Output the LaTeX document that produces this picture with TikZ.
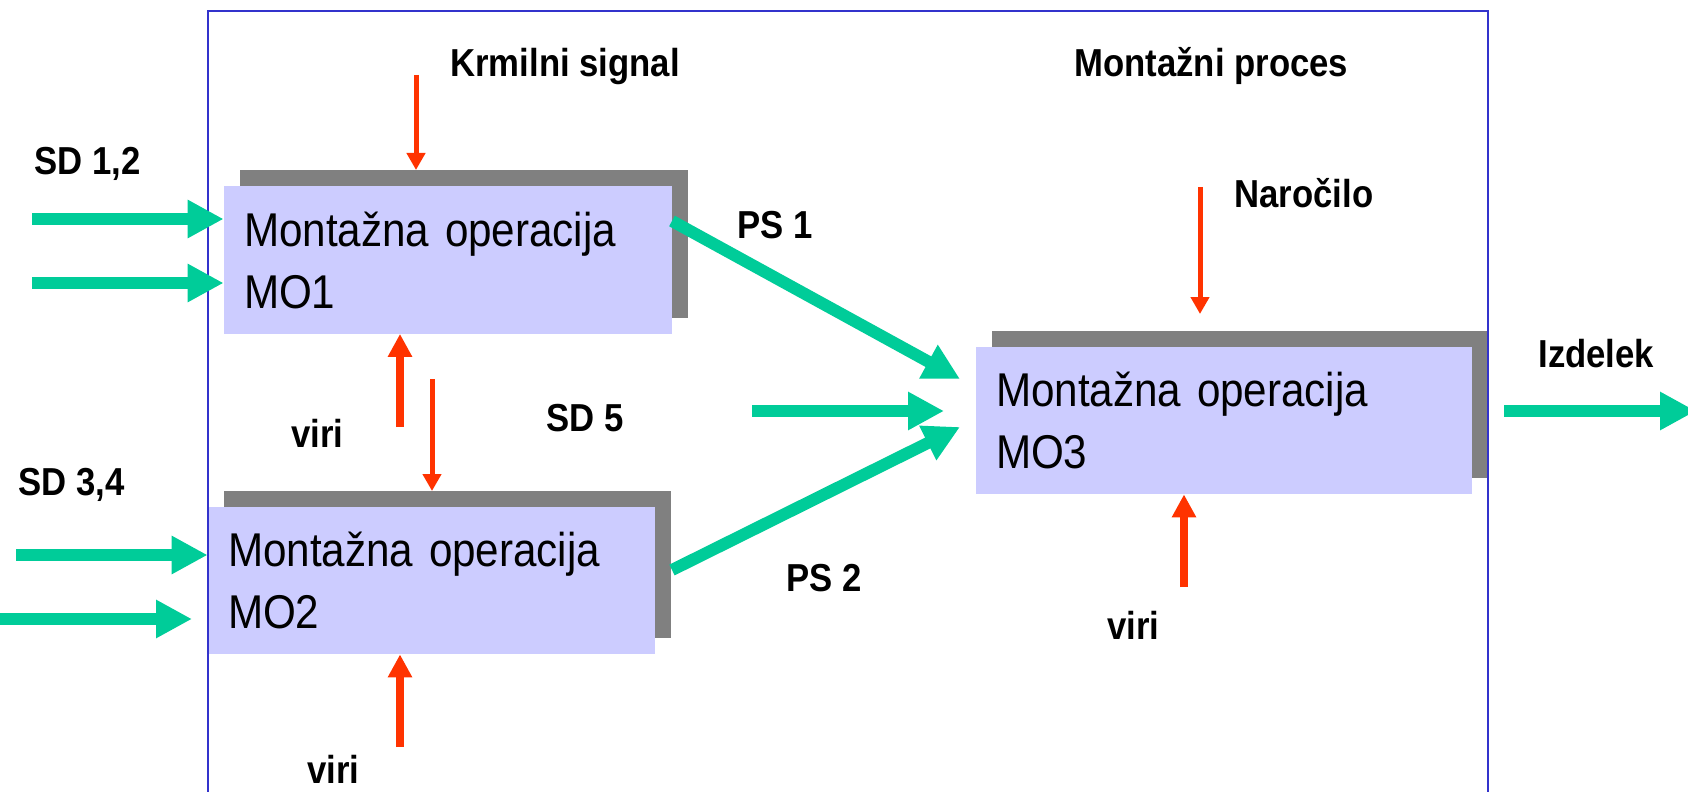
\documentclass[tikz,border=0pt]{standalone}
\usepackage{fontspec}
\setmainfont{Liberation Sans}[FakeStretch=0.89]
\usetikzlibrary{arrows.meta,shadows}
\definecolor{boxfill}{HTML}{CCCCFF}
\definecolor{shadowgray}{HTML}{808080}
\definecolor{flowgreen}{HTML}{00CC99}
\definecolor{sigred}{HTML}{FF3300}
\definecolor{frameblue}{HTML}{3333CC}
\begin{document}
\begin{tikzpicture}[x=0.5pt,y=-0.5pt,
  opbox/.style={rectangle, fill=boxfill, draw=none, align=left,
    inner xsep=10pt, inner ysep=0pt, minimum height=73.5pt,
    font=\fontsize{23.7}{31}\selectfont,
    drop shadow={shadow xshift=8pt, shadow yshift=8pt, fill=shadowgray, opacity=1}},
  lbl/.style={font=\bfseries\fontsize{19.5}{23}\selectfont, anchor=base west, inner sep=0pt},
  flow/.style={flowgreen, line width=6pt, -{Triangle[length=18pt,width=18pt]}},
  sigthin/.style={sigred, line width=2.5pt, -{Triangle[length=8.5pt,width=9pt]}},
  sigthick/.style={sigred, line width=4pt, -{Triangle[length=11.5pt,width=11.5pt]}}
]
\useasboundingbox (0,0) rectangle (1688,792);
\fill[white] (0,0) rectangle (1688,792);

% operation boxes
\node[opbox, text width=204pt] (mo1) at (448,260) {Montažna operacija\\MO1};
\node[opbox, text width=203.5pt] (mo2) at (431.5,580.5) {Montažna operacija\\MO2};
\node[opbox, text width=228pt] (mo3) at (1224,420.5) {Montažna operacija\\MO3};

% frame
\draw[frameblue, line width=1pt] (208,800) -- (208,11) -- (1488,11) -- (1488,800);

% coordinates for free ends
\coordinate (sd1a) at (32,219);
\coordinate (sd1b) at (32,283);
\coordinate (sd3a) at (16,555);
\coordinate (sd3b) at (0,619);
\coordinate (sd3e) at (192,619);
\coordinate (sd5s) at (752,411);
\coordinate (sd5e) at (944,411);
\coordinate (outs) at (1504,411);
\coordinate (oute) at (1696,411);
\coordinate (ps1s) at (672,221);
\coordinate (ps1e) at (960,379);
\coordinate (ps2s) at (672,570);
\coordinate (ps2e) at (960,427);
\coordinate (krs) at (416,75);
\coordinate (kre) at (416,170);
\coordinate (v1s) at (400,427);
\coordinate (v2s) at (432,379);
\coordinate (v2e) at (432,491);
\coordinate (v3s) at (400,747);
\coordinate (nas) at (1200,187);
\coordinate (nae) at (1200,314);
\coordinate (v4s) at (1184,587);

% green flows
\draw[flow] (sd1a) -- (sd1a -| mo1.west);
\draw[flow] (sd1b) -- (sd1b -| mo1.west);
\draw[flow] (sd3a) -- (sd3a -| mo2.west);
\draw[flow] (sd3b) -- (sd3e);
\draw[flow] (sd5s) -- (sd5e);
\draw[flow] (outs) -- (oute);
\draw[flow] (ps1s) -- (ps1e);
\draw[flow] (ps2s) -- (ps2e);

% red signals
\draw[sigthin] (krs) -- (kre);
\draw[sigthick] (v1s) -- (v1s |- mo1.south);
\draw[sigthin] (v2s) -- (v2e);
\draw[sigthick] (v3s) -- (v3s |- mo2.south);
\draw[sigthin] (nas) -- (nae);
\draw[sigthick] (v4s) -- (v4s |- mo3.south);

% labels
\node[lbl] (lkr) at (450,77) {Krmilni signal};
\node[lbl] (lmp) at (1074,77) {Montažni proces};
\node[lbl] (lsd12) at (34,175) {SD 1,2};
\node[lbl] (lviri1) at (291,447) {viri};
\node[lbl] (lsd5) at (546,431) {SD 5};
\node[lbl] (lsd34) at (18,495) {SD 3,4};
\node[lbl] (lviri2) at (307,783) {viri};
\node[lbl] (lnar) at (1234,207) {Naročilo};
\node[lbl] (lps1) at (737,238) {PS 1};
\node[lbl] (lizd) at (1538,367) {Izdelek};
\node[lbl] (lps2) at (786,591) {PS 2};
\node[lbl] (lviri3) at (1107,639) {viri};
\end{tikzpicture}
\end{document}
